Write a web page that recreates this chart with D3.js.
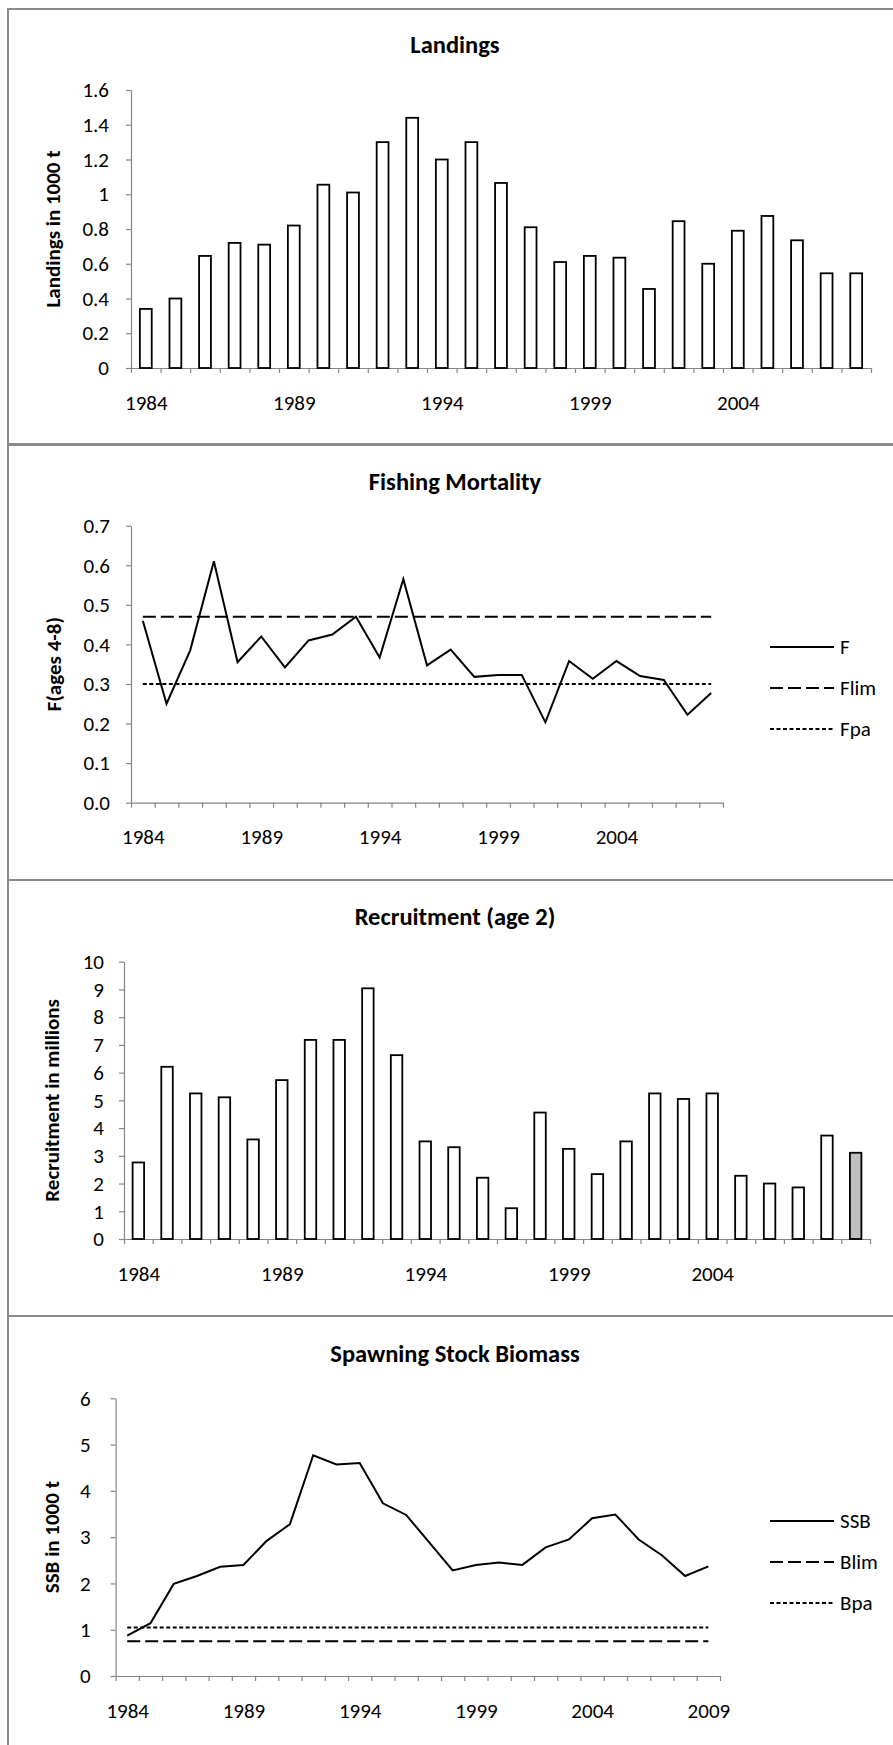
<!DOCTYPE html>
<html>
<head>
<meta charset="utf-8">
<script src="https://cdn.jsdelivr.net/npm/d3@7"></script>
<style>
  body { margin: 0; background: #fff; }
  svg text { font-family: Carlito, Calibri, Lato, sans-serif; fill: #000; }
  .tick text { font-size: 21px; font-family: Carlito, Calibri, Lato, sans-serif; fill: #000; }
  .panel-title { font-size: 24.5px; font-weight: bold; }
  .y-title { font-size: 21px; font-weight: bold; }
  .legend-text { font-size: 21px; }
  .axis path, .axis line { stroke: #868686; stroke-width: 1.2; }
</style>
</head>
<body>
<script>
// Four stock panels: landings, F, recruitment, SSB

// Years on the category axes
var years = ["1984","1985","1986","1987","1988","1989","1990","1991","1992","1993",
             "1994","1995","1996","1997","1998","1999","2000","2001","2002","2003",
             "2004","2005","2006","2007","2008","2009"];
var yearLabels = ["1984","1989","1994","1999","2004","2009"];
var recruitYearLabels = ["1984","1989","1994","1999","2004"]; // Excel dropped 2009 here

// Landings in 1000 t, 1984-2008
var landings = [0.34, 0.40, 0.645, 0.72, 0.71, 0.82, 1.055, 1.01, 1.30, 1.44,
                1.20, 1.30, 1.065, 0.81, 0.61, 0.645, 0.635, 0.455, 0.845, 0.60,
                0.79, 0.875, 0.735, 0.545, 0.545];
var landingsTicks = [0, 0.2, 0.4, 0.6, 0.8, 1, 1.2, 1.4, 1.6];

// Fishing mortality (ages 4-8), 1984-2008
var fishingF = [0.46, 0.25, 0.385, 0.61, 0.355, 0.42, 0.342, 0.41, 0.425, 0.47,
                0.367, 0.565, 0.347, 0.387, 0.318, 0.323, 0.323, 0.203, 0.358, 0.313,
                0.358, 0.32, 0.31, 0.222, 0.277];
var fRefNames = ["F", "Flim", "Fpa"];
var fLim = 0.47;
var fPa = 0.30;
var fTicks = [0, 0.1, 0.2, 0.3, 0.4, 0.5, 0.6, 0.7];

// Recruitment (age 2) in millions, 1984-2009 (last year shaded)
var recruitment = [2.76, 6.21, 5.25, 5.11, 3.59, 5.73, 7.18, 7.18, 9.04, 6.63,
                   3.52, 3.31, 2.21, 1.11, 4.56, 3.25, 2.34, 3.52, 5.25, 5.05,
                   5.25, 2.28, 2.0, 1.86, 3.73, 3.11];
var recruitTicks = [0, 1, 2, 3, 4, 5, 6, 7, 8, 9, 10];

// Spawning stock biomass in 1000 t, 1984-2009
var ssb = [0.87, 1.14, 1.99, 2.16, 2.36, 2.40, 2.92, 3.28, 4.77, 4.57,
           4.60, 3.73, 3.48, 2.88, 2.28, 2.40, 2.45, 2.40, 2.78, 2.95,
           3.41, 3.49, 2.95, 2.61, 2.16, 2.37];
var bRefNames = ["SSB", "Blim", "Bpa"];
var bLim = 0.75;
var bPa = 1.05;
var ssbTicks = [0, 1, 2, 3, 4, 5, 6];

var svg = d3.select("body").append("svg")
    .attr("width", 893)
    .attr("height", 1745);

// panel frames (right edge runs off the picture)
var frameTops = [9, 444, 880, 1316];
svg.selectAll("rect.frame")
    .data(frameTops)
    .enter().append("rect")
    .attr("class", "frame")
    .attr("x", 8)
    .attr("y", function(d) { return d; })
    .attr("width", 900)
    .attr("height", 436)
    .style("fill", "none")
    .style("stroke", "#8a8a8a")
    .style("stroke-width", 2);

var dashes = { solid: null, dash: "13,5", dot: "4,2.5" };

// Shared axis drawing; returns the y scale
function drawAxes(p) {
  var g = svg.append("g");
  var n = p.cats.length;

  var y = d3.scaleLinear().domain(p.yDomain).range([p.yBase, p.yTop]);

  g.append("text")
    .attr("class", "panel-title")
    .attr("x", 455)
    .attr("y", p.titleY)
    .attr("text-anchor", "middle")
    .attr("dominant-baseline", "central")
    .text(p.title);

  g.append("text")
    .attr("class", "y-title")
    .attr("transform", "translate(" + p.yTitleX + "," + (p.yBase + p.yTop) / 2 + ") rotate(-90)")
    .attr("text-anchor", "middle")
    .attr("dominant-baseline", "central")
    .text(p.yTitle);

  // y axis
  g.append("g")
    .attr("class", "axis")
    .attr("transform", "translate(" + p.x0 + ",0)")
    .call(d3.axisLeft(y).tickValues(p.ticks).tickSize(5).tickSizeOuter(0)
          .tickPadding(p.labelPad).tickFormat(p.fmt));

  // x axis: ticks sit between categories
  var edge = d3.scaleLinear().domain([0, n]).range([p.x0, p.x1]);
  g.append("g")
    .attr("class", "axis")
    .attr("transform", "translate(0," + p.yBase + ")")
    .call(d3.axisBottom(edge).tickValues(d3.range(n + 1)).tickSize(5).tickSizeOuter(0).tickFormat(""));

  // year labels at category centres
  var mid = d3.scalePoint().domain(p.cats).range([p.x0, p.x1]).padding(0.5);
  var labels = g.append("g")
    .attr("transform", "translate(0," + p.yBase + ")")
    .call(d3.axisBottom(mid).tickValues(p.labels.filter(function(d) { return p.cats.indexOf(d) >= 0; }))
          .tickSize(0).tickPadding(26.7));
  labels.select(".domain").remove();

  return y;
}

// ---- Landings ----
var landCats = years.slice(0, landings.length);
var yLand = drawAxes({
  cats: landCats, labels: yearLabels, x0: 131, x1: 871, yTop: 90, yBase: 368, yDomain: [0, 1.6],
  ticks: landingsTicks, fmt: function(d) { return String(d); }, labelPad: 17,
  title: "Landings", titleY: 45, yTitle: "Landings in 1000 t", yTitleX: 53
});
var xLand = d3.scaleBand().domain(landCats).range([131, 871]).paddingInner(0.6).paddingOuter(0.3);
svg.append("g").selectAll("rect")
    .data(landings)
    .enter().append("rect")
    .attr("x", function(d, i) { return xLand(landCats[i]); })
    .attr("y", function(d) { return yLand(d); })
    .attr("width", xLand.bandwidth())
    .attr("height", function(d) { return yLand(0) - yLand(d); })
    .style("fill", "#fff")
    .style("stroke", "#000")
    .style("stroke-width", 1.8);

// ---- Fishing mortality ----
var fCats = years.slice(0, fishingF.length);
var yF = drawAxes({
  cats: fCats, labels: yearLabels, x0: 131, x1: 723, yTop: 525.7, yBase: 802.7, yDomain: [0, 0.7],
  ticks: fTicks, fmt: d3.format(".1f"), labelPad: 16,
  title: "Fishing Mortality", titleY: 482, yTitle: "F(ages 4-8)", yTitleX: 54
});
var xF = d3.scalePoint().domain(fCats).range([131, 723]).padding(0.5);

function drawRefLines(x, y, cats, series, lim, pa, names, legendY) {
  var first = cats[0], last = cats[cats.length - 1];
  svg.append("line")
    .attr("x1", x(first)).attr("x2", x(last))
    .attr("y1", y(pa)).attr("y2", y(pa))
    .style("stroke", "#000").style("stroke-width", 2).style("stroke-dasharray", dashes.dot);
  svg.append("line")
    .attr("x1", x(first)).attr("x2", x(last))
    .attr("y1", y(lim)).attr("y2", y(lim))
    .style("stroke", "#000").style("stroke-width", 2).style("stroke-dasharray", dashes.dash);
  svg.append("path")
    .datum(series)
    .attr("d", d3.line().x(function(d, i) { return x(cats[i]); }).y(function(d) { return y(d); }))
    .style("fill", "none").style("stroke", "#000").style("stroke-width", 2)
    .style("stroke-linejoin", "miter");

  // legend
  var styles = [dashes.solid, dashes.dash, dashes.dot];
  var lg = svg.append("g").selectAll("g")
    .data(names)
    .enter().append("g")
    .attr("transform", function(d, i) { return "translate(770," + (legendY + i * 41) + ")"; });
  lg.append("line")
    .attr("x1", 0).attr("x2", 64)
    .style("stroke", "#000").style("stroke-width", 2)
    .style("stroke-dasharray", function(d, i) { return styles[i]; });
  lg.append("text")
    .attr("class", "legend-text")
    .attr("x", 70)
    .attr("dominant-baseline", "central")
    .text(function(d) { return d; });
}
drawRefLines(xF, yF, fCats, fishingF, fLim, fPa, fRefNames, 647);

// ---- Recruitment ----
var recCats = years.slice(0, recruitment.length);
var yRec = drawAxes({
  cats: recCats, labels: recruitYearLabels, x0: 124, x1: 870, yTop: 961.7, yBase: 1239, yDomain: [0, 10],
  ticks: recruitTicks, fmt: d3.format("d"), labelPad: 15,
  title: "Recruitment (age 2)", titleY: 917, yTitle: "Recruitment in millions", yTitleX: 52
});
var xRec = d3.scaleBand().domain(recCats).range([124, 870]).paddingInner(0.6).paddingOuter(0.3);
svg.append("g").selectAll("rect")
    .data(recruitment)
    .enter().append("rect")
    .attr("x", function(d, i) { return xRec(recCats[i]); })
    .attr("y", function(d) { return yRec(d); })
    .attr("width", xRec.bandwidth())
    .attr("height", function(d) { return yRec(0) - yRec(d); })
    .style("fill", function(d, i) { return i == recruitment.length - 1 ? "#bfbfbf" : "#fff"; })
    .style("stroke", "#000")
    .style("stroke-width", 1.8);

// ---- SSB ----
var ssbCats = years.slice(0, ssb.length);
var ySsb = drawAxes({
  cats: ssbCats, labels: yearLabels, x0: 115.6, x1: 720, yTop: 1398.3, yBase: 1676, yDomain: [0, 6],
  ticks: ssbTicks, fmt: d3.format("d"), labelPad: 20,
  title: "Spawning Stock Biomass", titleY: 1354, yTitle: "SSB in 1000 t", yTitleX: 52
});
var xSsb = d3.scalePoint().domain(ssbCats).range([115.6, 720]).padding(0.5);
drawRefLines(xSsb, ySsb, ssbCats, ssb, bLim, bPa, bRefNames, 1521);
</script>
</body>
</html>
